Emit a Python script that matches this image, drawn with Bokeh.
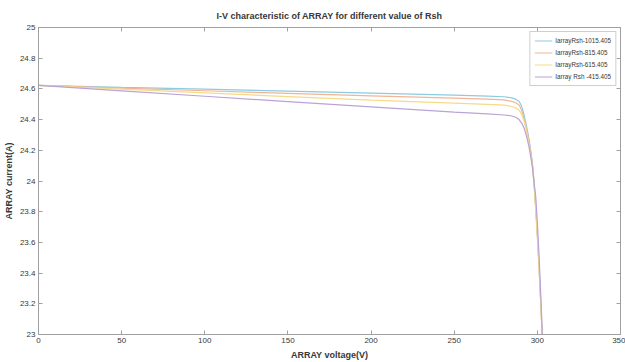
from bokeh.plotting import figure
from bokeh.models import LinearAxis, FixedTicker, CustomJSTickFormatter, Range1d, Legend, LegendItem
from bokeh.embed import file_html
from bokeh.resources import INLINE

# Voltage samples (V)
voltage = [0, 50, 100, 150, 200, 250, 270, 280, 284, 287, 289, 290, 291, 292, 293,
           294, 295, 296, 297, 298, 299, 300, 301, 302, 303]

# Array current (A) for each shunt resistance
i_rsh_1015 = [24.623, 24.610, 24.598, 24.585, 24.573, 24.560, 24.553, 24.549, 24.543,
              24.533, 24.518, 24.500, 24.470, 24.430, 24.380, 24.330, 24.270, 24.200,
              24.120, 24.000, 23.830, 23.650, 23.450, 23.220, 22.980]
i_rsh_815 = [24.623, 24.605, 24.588, 24.571, 24.555, 24.540, 24.533, 24.528, 24.520,
             24.510, 24.495, 24.475, 24.445, 24.405, 24.360, 24.310, 24.255, 24.190,
             24.110, 23.990, 23.825, 23.645, 23.445, 23.215, 22.975]
i_rsh_615 = [24.623, 24.598, 24.574, 24.550, 24.527, 24.507, 24.499, 24.494, 24.487,
             24.476, 24.462, 24.445, 24.420, 24.390, 24.350, 24.295, 24.240, 24.175,
             24.095, 23.980, 23.815, 23.640, 23.440, 23.210, 22.970]
i_rsh_415 = [24.623, 24.587, 24.552, 24.517, 24.483, 24.449, 24.437, 24.430, 24.425,
             24.415, 24.400, 24.385, 24.370, 24.345, 24.310, 24.270, 24.220, 24.160,
             24.090, 23.990, 23.900, 23.730, 23.520, 23.270, 23.000]

series_labels = ["IarrayRsh-1015.405", "IarrayRsh-815.405", "IarrayRsh-615.405", "Iarray Rsh -415.405"]
series_values = [i_rsh_1015, i_rsh_815, i_rsh_615, i_rsh_415]
series_colors = ["#8ccbe0", "#f2b496", "#f6da88", "#b9a3d8"]

x_ticks = [0, 50, 100, 150, 200, 250, 300, 350]
y_ticks = [23, 23.2, 23.4, 23.6, 23.8, 24, 24.2, 24.4, 24.6, 24.8, 25]

FONT = "Liberation Sans"
AXIS_COLOR = "#a0a0a0"
TEXT_COLOR = "#383838"

p = figure(width=625, height=362, output_backend="svg", toolbar_location=None,
           x_range=Range1d(0, 350), y_range=Range1d(23, 25),
           title="I-V characteristic of ARRAY for different value of Rsh",
           min_border_left=37, min_border_right=5, min_border_top=27, min_border_bottom=27,
           x_axis_label="ARRAY voltage(V)", y_axis_label="ARRAY current(A)")

p.title.align = "center"
p.title.text_font = FONT
p.title.text_font_size = "9px"
p.title.text_font_style = "bold"
p.title.text_color = TEXT_COLOR
p.title.offset = 0
p.title.standoff = 13

p.grid.visible = False
p.outline_line_color = AXIS_COLOR
p.background_fill_color = "white"
p.border_fill_color = "white"

fmt = CustomJSTickFormatter(code="return (Math.round(tick*10)/10).toString();")

def style_axis(ax, show_labels=True):
    ax.axis_line_color = AXIS_COLOR
    ax.major_tick_line_color = AXIS_COLOR
    ax.minor_tick_line_color = None
    ax.major_tick_in = 4
    ax.major_tick_out = 0
    ax.major_label_text_font = FONT
    ax.major_label_text_font_size = "8px"
    ax.major_label_text_color = TEXT_COLOR
    ax.axis_label_text_font = FONT
    ax.axis_label_text_font_size = "9px"
    ax.axis_label_text_font_style = "bold"
    ax.axis_label_text_color = TEXT_COLOR
    ax.major_label_standoff = 3
    ax.axis_label_standoff = 4
    if not show_labels:
        ax.major_label_text_alpha = 0
        ax.major_label_text_font_size = "0px"

for ax in p.xaxis:
    ax.ticker = FixedTicker(ticks=x_ticks)
    style_axis(ax)
for ax in p.yaxis:
    ax.ticker = FixedTicker(ticks=y_ticks)
    ax.formatter = fmt
    style_axis(ax)
    ax.axis_label_standoff = 3

top_ax = LinearAxis(ticker=FixedTicker(ticks=x_ticks))
style_axis(top_ax, show_labels=False)
top_ax.major_label_standoff = 0
p.add_layout(top_ax, "above")
right_ax = LinearAxis(ticker=FixedTicker(ticks=y_ticks))
style_axis(right_ax, show_labels=False)
p.add_layout(right_ax, "right")

items = []
for lab, vals, col in zip(series_labels, series_values, series_colors):
    r = p.line(voltage, vals, line_color=col, line_width=1.2)
    items.append(LegendItem(label=lab, renderers=[r]))

legend = Legend(items=items, location="top_right")
legend.label_text_font = FONT
legend.label_text_font_size = "6.3px"
legend.label_text_color = TEXT_COLOR
legend.label_height = 9
legend.glyph_height = 9
legend.glyph_width = 18
legend.label_standoff = 3
legend.spacing = 3
legend.padding = 4
legend.margin = 4
legend.border_line_color = AXIS_COLOR
legend.background_fill_alpha = 1
p.add_layout(legend, "center")

open("out.html", "w").write(file_html(p, INLINE))
